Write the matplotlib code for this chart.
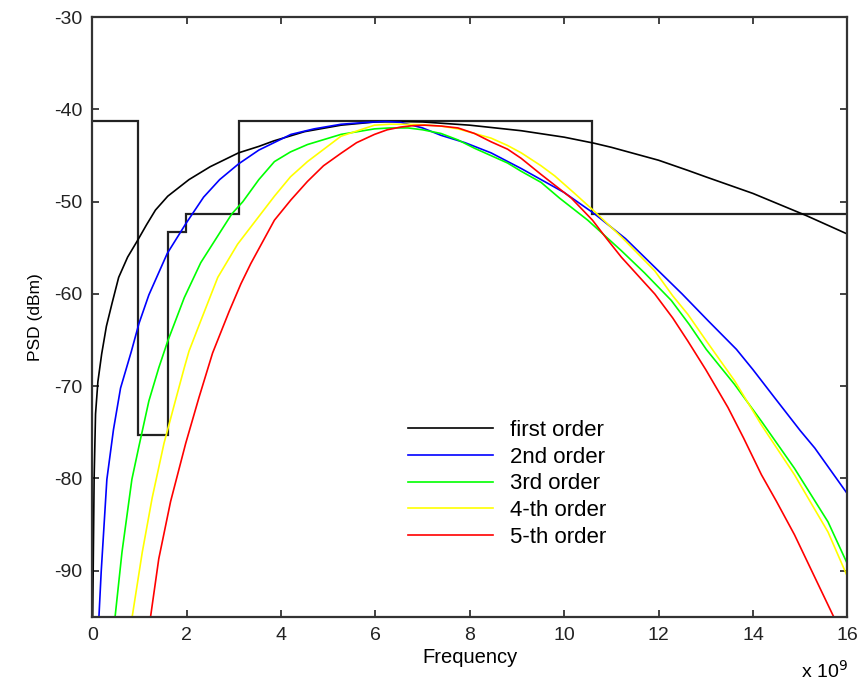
import matplotlib.pyplot as plt

plt.rcParams['font.family'] = ['Liberation Sans', 'DejaVu Sans']
plt.rcParams['axes.unicode_minus'] = False

# FCC indoor emission mask (GHz edges, dBm levels)
mask_edges = [0, 0.96, 1.61, 1.99, 3.1, 10.6, 16]
mask_levels = [-41.3, -75.3, -53.3, -51.3, -41.3, -51.3]

# PSD of the Gaussian pulse derivatives, frequency in GHz, level in dBm
f1 = [0.01, 0.04, 0.07, 0.12, 0.2, 0.3, 0.42, 0.56, 0.75, 0.96, 1.15, 1.34, 1.6,
      2.05, 2.5, 3.1, 3.53, 3.85, 4.5, 5.27, 6.0, 6.5, 7.0, 8.0, 9.09, 10.0,
      10.63, 11.0, 12.0, 12.62, 13.0, 14.0, 15.13, 16.0]
p1 = [-95, -80, -73, -69.5, -66.5, -63.5, -61, -58.2, -56.0, -54.2, -52.5, -50.9, -49.4,
      -47.6, -46.2, -44.7, -44.0, -43.4, -42.4, -41.7, -41.35, -41.3, -41.35, -41.7, -42.3, -43.0,
      -43.65, -44.1, -45.5, -46.6, -47.3, -49.1, -51.5, -53.5]

f2 = [0.12, 0.14, 0.19, 0.31, 0.45, 0.6, 0.83, 0.99, 1.2, 1.59, 1.98, 2.36, 2.7,
      3.1, 3.53, 4.21, 4.7, 5.27, 5.8, 6.2, 6.54, 7.0, 7.39, 7.9, 8.45, 9.09,
      9.51, 10.0, 10.64, 11.3, 11.92, 12.5, 13.05, 13.65, 14.0, 14.46, 15.0, 15.31, 16.02]
p2 = [-98, -95.2, -90.1, -80.1, -74.7, -70.2, -66.2, -63.2, -60.1, -55.6, -52.4, -49.5, -47.6,
      -45.9, -44.4, -42.7, -42.1, -41.6, -41.4, -41.3, -41.4, -42.0, -42.8, -43.6, -44.7, -46.4,
      -47.6, -49.0, -51.3, -54.0, -57.1, -60.0, -62.9, -66.0, -68.2, -71.25, -74.8, -76.7, -81.8]

f3 = [0.45, 0.48, 0.63, 0.84, 0.99, 1.2, 1.41, 1.6, 1.95, 2.3, 2.76, 2.96, 3.19,
      3.53, 3.86, 4.2, 4.56, 5.27, 5.98, 6.3, 6.69, 7.0, 7.39, 7.75, 8.1, 8.8,
      9.09, 9.51, 9.9, 10.5, 11.21, 11.7, 12.27, 12.65, 13.01, 13.61, 14.18, 14.88,
      15.59, 16.05]
p3 = [-98, -95.2, -88.0, -80.1, -76.5, -71.6, -68.0, -65.1, -60.4, -56.6, -52.9, -51.3, -50.0,
      -47.6, -45.65, -44.6, -43.8, -42.7, -42.1, -42.0, -42.0, -42.2, -42.6, -43.3, -44.2, -45.8,
      -46.7, -47.9, -49.6, -52.0, -55.3, -57.7, -60.7, -63.3, -66.0, -69.8, -73.8, -78.9,
      -84.7, -89.8]

f4 = [0.8, 0.84, 1.06, 1.27, 1.52, 1.76, 1.95, 2.05, 2.3, 2.66, 3.08, 3.5, 3.86,
      4.2, 4.56, 5.27, 5.98, 6.3, 6.6, 7.0, 7.39, 7.75, 8.1, 8.45, 8.8, 9.09,
      9.51, 9.8, 10.2, 10.61, 11.21, 11.92, 12.3, 12.62, 13.0, 13.61, 14.18, 14.88,
      15.59, 16.05]
p4 = [-98, -95.2, -88.0, -82.1, -76.2, -71.6, -68.0, -66.2, -62.9, -58.2, -54.6, -51.8, -49.4,
      -47.3, -45.65, -42.9, -41.7, -41.6, -41.6, -41.65, -41.8, -42.1, -42.6, -43.1, -43.9, -44.7,
      -46.1, -47.2, -49.0, -50.9, -53.8, -57.5, -60.2, -62.2, -65.0, -69.4, -74.2, -79.6,
      -85.8, -91.2]

f5 = [1.18, 1.23, 1.41, 1.66, 1.98, 2.26, 2.55, 2.9, 3.15, 3.36, 3.86, 4.21, 4.56,
      4.9, 5.27, 5.6, 5.98, 6.25, 6.54, 6.8, 7.04, 7.4, 7.75, 8.1, 8.45, 8.8,
      9.09, 9.5, 9.8, 10.15, 10.6, 10.9, 11.21, 11.6, 11.92, 12.3, 12.62, 13.0,
      13.47, 13.8, 14.18, 14.5, 14.88, 15.3, 15.73, 15.9]
p5 = [-98, -95.2, -88.7, -82.5, -76.2, -71.25, -66.4, -61.9, -58.9, -56.7, -52.0, -49.8, -47.8,
      -46.1, -44.75, -43.6, -42.7, -42.2, -41.9, -41.75, -41.7, -41.8, -42.0, -42.6, -43.5, -44.3,
      -45.3, -47.0, -48.2, -49.6, -52.0, -54.0, -56.0, -58.2, -60.0, -62.6, -65.1, -68.2,
      -72.3, -75.6, -79.6, -82.5, -86.1, -90.6, -95.2, -97]

curves = [
    (f1, p1, 'k', 'first order'),
    (f2, p2, 'b', '2nd order'),
    (f3, p3, '#00ff00', '3rd order'),
    (f4, p4, '#ffff00', '4-th order'),
    (f5, p5, 'r', '5-th order'),
]

fig = plt.figure(figsize=(8.62, 6.90), dpi=100)
ax = fig.add_axes([0.107, 0.106, 0.876, 0.869])

for f, p, c, lab in curves:
    ax.plot(f, p, color=c, lw=1.2, label=lab)

ax.stairs(mask_levels, mask_edges, color='#222222', lw=1.6, baseline=None)

ax.set_xlim(0, 16)
ax.set_ylim(-95, -30)
ax.set_xticks(range(0, 17, 2))
ax.set_yticks(range(-90, -29, 10))
ax.tick_params(direction='in', top=True, right=True, length=5, width=1.2,
               labelsize=14, colors='#222222', pad=7)
for s in ax.spines.values():
    s.set_linewidth(1.6)
    s.set_color('#333333')

ax.set_xlabel('Frequency', fontsize=14.5, labelpad=3)
ax.set_ylabel('PSD (dBm)', fontsize=12.5, labelpad=8)
ax.text(1.0, -0.072, r'x 10$^9$', transform=ax.transAxes, ha='right', va='top', fontsize=14)

ax.legend(loc='upper left', bbox_to_anchor=(0.392, 0.362), frameon=False, fontsize=16,
          handlelength=3.8, handletextpad=0.8, labelspacing=0.26, borderpad=0.4)

fig.savefig('out.png')
